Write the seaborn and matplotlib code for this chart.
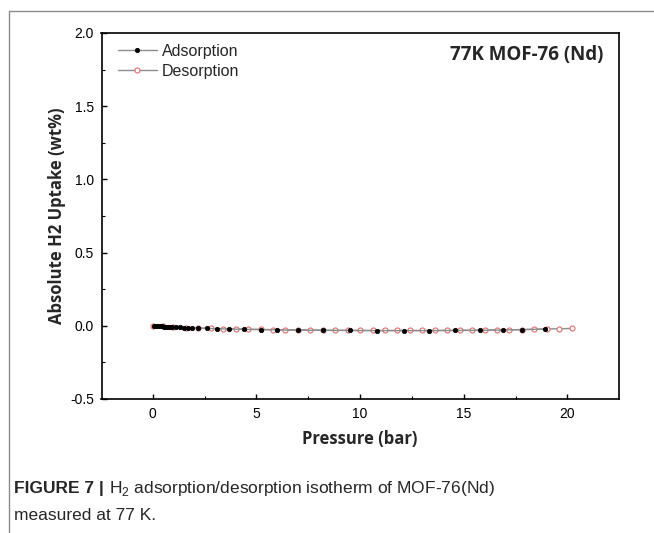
import matplotlib
matplotlib.use("Agg")
import matplotlib.pyplot as plt
from matplotlib.lines import Line2D
from matplotlib.ticker import MultipleLocator
import seaborn as sns
import pandas as pd

ads_p = [0.05, 0.15, 0.25, 0.35, 0.45, 0.55, 0.65, 0.75, 0.85, 0.95, 1.1, 1.3, 1.5, 1.7, 1.9,
         2.2, 2.6, 3.1, 3.7, 4.4, 5.2, 6.0, 7.0, 8.2, 9.5, 10.8, 12.1, 13.3, 14.6, 15.8, 16.9, 17.8, 18.9]
ads_u = [0.0, -0.001, -0.002, -0.003, -0.004, -0.005, -0.006, -0.007, -0.008, -0.009, -0.010, -0.011,
         -0.012, -0.013, -0.014, -0.016, -0.018, -0.020, -0.022, -0.024, -0.026, -0.028, -0.030, -0.031,
         -0.032, -0.033, -0.033, -0.033, -0.032, -0.031, -0.029, -0.026, -0.022]
des_p = [20.2, 19.6, 19.0, 18.4, 17.8, 17.2, 16.6, 16.0, 15.4, 14.8, 14.2, 13.6, 13.0, 12.4, 11.8,
         11.2, 10.6, 10.0, 9.4, 8.8, 8.2, 7.6, 7.0, 6.4, 5.8, 5.2, 4.6, 4.0, 3.4, 2.8, 2.2, 1.6, 1.0, 0.5, 0.0]
des_u = [-0.018, -0.020, -0.022, -0.024, -0.026, -0.027, -0.028, -0.029, -0.030, -0.031, -0.031,
         -0.032, -0.032, -0.032, -0.032, -0.032, -0.032, -0.032, -0.031, -0.031, -0.030, -0.029,
         -0.028, -0.027, -0.026, -0.025, -0.024, -0.022, -0.020, -0.018, -0.015, -0.012, -0.008, -0.004, 0.0]

x_ticks = [0, 5, 10, 15, 20]
y_ticks = [-0.5, 0.0, 0.5, 1.0, 1.5, 2.0]
title = "77K MOF-76 (Nd)"
xlabel = "Pressure (bar)"
ylabel = "Absolute H2 Uptake (wt%)"
legend_labels = ["Adsorption", "Desorption"]
caption_head = "FIGURE 7 | "
caption_body = r"H$_2$ adsorption/desorption isotherm of MOF-76(Nd)"
caption_line2 = "measured at 77 K."

ads_df = pd.DataFrame({"p": ads_p, "u": ads_u})
des_df = pd.DataFrame({"p": des_p, "u": des_u})

sns.set_style("ticks")
plt.rcParams["font.family"] = ["Liberation Sans", "DejaVu Sans"]
plt.rcParams["mathtext.fontset"] = "custom"
plt.rcParams["mathtext.rm"] = "Liberation Sans"

fig = plt.figure(figsize=(6.54, 5.33), dpi=100)
W, H = 654, 533
ax_l, ax_r, ax_t, ax_b = 101.5, 618.5, 33, 399
ax = fig.add_axes([ax_l / W, 1 - ax_b / H, (ax_r - ax_l) / W, (ax_b - ax_t) / H])

sns.lineplot(data=des_df, x="p", y="u", ax=ax, sort=False, estimator=None,
             color="#8c8c8c", lw=1.0, marker="o", markersize=3.6,
             markerfacecolor="white", markeredgecolor="#e07a7a", markeredgewidth=0.9,
             label=legend_labels[1], zorder=2)
sns.lineplot(data=ads_df, x="p", y="u", ax=ax, sort=False, estimator=None,
             color="#8c8c8c", lw=1.0, marker="o", markersize=3.2,
             markerfacecolor="black", markeredgecolor="black", markeredgewidth=0.5,
             label=legend_labels[0], zorder=3)

ax.set_xlim(-2.47, 22.46)
ax.set_ylim(-0.5, 2.0)
ax.set_xticks(x_ticks)
ax.set_yticks(y_ticks)
ax.xaxis.set_minor_locator(MultipleLocator(2.5))
ax.yaxis.set_minor_locator(MultipleLocator(0.25))
ax.set_xticklabels([str(v) for v in x_ticks])
ax.set_yticklabels([f"{v:.1f}" for v in y_ticks])
ax.tick_params(axis="both", which="major", direction="in", length=3.4, width=1.0,
               labelsize=10, color="black", labelcolor="black", pad=5.5)
ax.tick_params(axis="both", which="minor", direction="in", length=2.0, width=0.8, color="black")
for s in ax.spines.values():
    s.set_visible(True)
    s.set_color("black")
    s.set_linewidth(1.2)

lab_font = ["Open Sans", "DejaVu Sans"]
ax.set_xlabel(xlabel, fontsize=12, fontweight="bold", family=lab_font, labelpad=7)
ax.set_ylabel(ylabel, fontsize=12, fontweight="bold", family=lab_font, labelpad=3)
ax.text(0.97, 1 - 22 / 366, title, transform=ax.transAxes, ha="right", va="center",
        fontsize=13.5, fontweight="bold", family=lab_font)

handles, labels = ax.get_legend_handles_labels()
order = [labels.index(legend_labels[0]), labels.index(legend_labels[1])]
ax.legend([handles[i] for i in order], [labels[i] for i in order], loc="upper left",
          frameon=False, fontsize=11.5, handlelength=2.5, handletextpad=0.3,
          borderaxespad=0.0, borderpad=0.0, labelspacing=0.3,
          bbox_to_anchor=(16 / 517, 1 - 11 / 366))

# page frame lines
fig.add_artist(Line2D([9 / W, 9 / W], [0, 1 - 11 / H], color="#8a8a8a", lw=1.0, transform=fig.transFigure))
fig.add_artist(Line2D([9 / W, 1], [1 - 11 / H, 1 - 11 / H], color="#8a8a8a", lw=1.0, transform=fig.transFigure))

cap_font = ["Liberation Sans", "DejaVu Sans"]
t1 = fig.text(14 / W, 1 - 489 / H, caption_head, fontsize=12.5, fontweight="bold",
              family=cap_font, va="center", ha="left")
fig.canvas.draw()
bb = t1.get_window_extent()
x2 = bb.x1 / fig.bbox.width
fig.text(x2, 1 - 489 / H, caption_body, fontsize=12.5, family=cap_font, va="center", ha="left")
fig.text(14 / W, 1 - 515 / H, caption_line2, fontsize=12.5, family=cap_font,
         va="center", ha="left")

fig.savefig("out.png", dpi=100)
